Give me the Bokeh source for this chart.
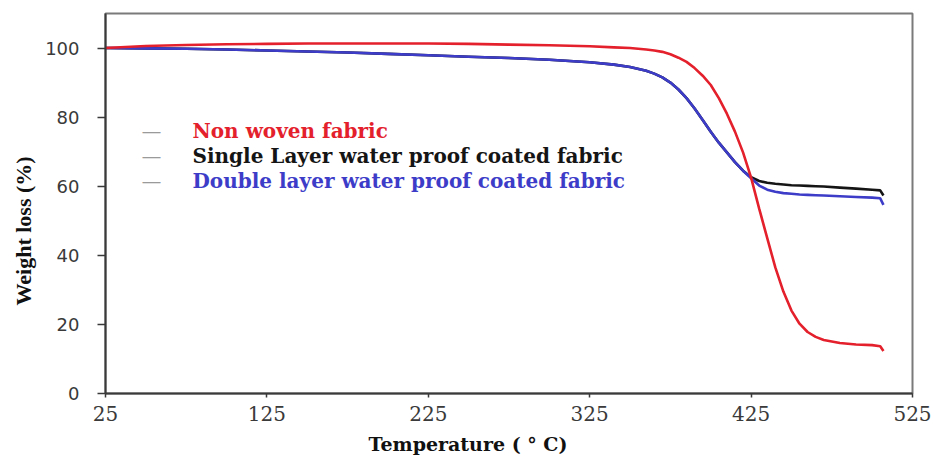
from bokeh.plotting import figure
from bokeh.models import Range1d, FixedTicker, Label, Title
from bokeh.embed import file_html
from bokeh.resources import INLINE

# ---- data ----
temperature = [25, 50, 75, 100, 125, 150, 175, 200, 225, 250, 275, 300, 325, 340, 350,
               360, 365, 370, 375, 380, 385, 390, 395, 400, 405, 410, 415, 420, 425,
               430, 435, 440, 445, 450, 455, 460, 465, 470, 480, 490, 500, 505, 507]
non_woven = [100.0, 100.6, 100.9, 101.1, 101.2, 101.3, 101.3, 101.3, 101.3, 101.2,
             101.0, 100.8, 100.5, 100.2, 100.0,
             99.6, 99.3, 98.9, 98.2, 97.2, 96.0, 94.2, 92.0, 89.3,
             85.5, 81.0, 75.8, 69.8, 62.5,
             53.5, 45.0, 36.5, 29.5, 24.0, 20.2, 17.8, 16.4, 15.5, 14.6, 14.2, 14.0, 13.7, 12.3]
single_layer = [100.0, 99.9, 99.8, 99.6, 99.3, 99.0, 98.7, 98.3, 97.9, 97.5,
                97.1, 96.6, 95.9, 95.2, 94.5,
                93.4, 92.6, 91.5, 90.0, 88.0, 85.5, 82.5, 79.2, 75.8,
                72.6, 69.8, 67.0, 64.5, 62.6,
                61.5, 61.0, 60.7, 60.5, 60.3, 60.2, 60.1, 60.0, 59.9, 59.6, 59.3, 59.0, 58.8, 57.3]
double_layer = [100.0, 99.9, 99.8, 99.6, 99.3, 99.0, 98.7, 98.3, 97.9, 97.5,
                97.1, 96.6, 95.9, 95.2, 94.5,
                93.4, 92.6, 91.5, 90.0, 88.0, 85.5, 82.5, 79.2, 75.8,
                72.6, 69.8, 67.0, 64.5, 62.3,
                60.2, 59.0, 58.4, 58.0, 57.8, 57.6, 57.5, 57.4, 57.3, 57.1, 56.9, 56.7, 56.5, 54.6]
series_names = ["Non woven fabric",
                "Single Layer water proof coated fabric",
                "Double layer water proof coated fabric"]
x_ticks = [25, 125, 225, 325, 425, 525]
y_ticks = [0, 20, 40, 60, 80, 100]
x_title = "Temperature ( \u00b0 C)"
y_title = "Weight loss (%)"

RED = "#e3202b"
BLACK = "#151515"
BLUE = "#3c3cc8"

W, H = 934, 465
BL, BR, BT, BB = 105, 22, 13, 72
p = figure(width=W, height=H, output_backend="svg", toolbar_location=None,
           x_range=Range1d(25, 525), y_range=Range1d(0, 110),
           min_border_left=BL, min_border_right=BR, min_border_top=BT, min_border_bottom=BB)

p.background_fill_color = "white"
p.border_fill_color = "white"
p.outline_line_color = "#7a7a7a"
p.outline_line_width = 2
p.xgrid.visible = False
p.ygrid.visible = False

# axes
p.xaxis.ticker = FixedTicker(ticks=x_ticks)
p.yaxis.ticker = FixedTicker(ticks=y_ticks)
p.xaxis.minor_tick_line_color = None
p.yaxis.minor_tick_line_color = None
for ax in (p.xaxis, p.yaxis):
    ax.axis_line_color = "#3a3a3a"
    ax.axis_line_width = 2
    ax.major_tick_line_color = "#3a3a3a"
    ax.major_tick_line_width = 1.5
    ax.major_tick_in = 0

p.yaxis.major_tick_out = 8
p.yaxis.major_label_standoff = 18
p.yaxis.major_label_text_font = "DejaVu Sans"
p.yaxis.major_label_text_font_size = "18px"
p.yaxis.major_label_text_color = "#3a3a3a"

p.xaxis.major_tick_out = 4
p.xaxis.major_label_standoff = 8
p.xaxis.major_label_text_font = "DejaVu Serif"
p.xaxis.major_label_text_font_size = "20px"
p.xaxis.major_label_text_color = "#3a3a3a"

# axis titles as side titles so they can sit off-centre like the reference
frame_bottom = H - BB
p.add_layout(Title(text=x_title, align="left", offset=368 - BL, standoff=15,
                   text_font="DejaVu Serif", text_font_style="bold",
                   text_font_size="19px", text_color="#111111"), "below")
p.add_layout(Title(text=y_title, align="left", offset=frame_bottom - 305, standoff=14,
                   text_font="Liberation Serif", text_font_style="bold",
                   text_font_size="22px", text_color="#111111"), "left")

# curves
p.line(temperature, single_layer, line_color=BLACK, line_width=2.6)
p.line(temperature, double_layer, line_color=BLUE, line_width=2.6)
p.line(temperature, non_woven, line_color=RED, line_width=2.6)

# legend (manual, coloured texts with grey swatches)
# Label screen units are measured from the frame's bottom-left corner
colors = [RED, BLACK, BLUE]
rows_from_top = [130, 155, 180]
for name, col, yt in zip(series_names, colors, rows_from_top):
    yy = frame_bottom - yt
    p.add_layout(Label(x=142 - BL, y=yy, x_units="screen", y_units="screen",
                       text="\u2014", text_color="#9a9a9a", text_font_size="18px",
                       text_baseline="middle"))
    p.add_layout(Label(x=192 - BL, y=yy, x_units="screen", y_units="screen",
                       text=name, text_color=col, text_font="DejaVu Serif",
                       text_font_style="bold", text_font_size="20px",
                       text_baseline="middle"))

open("out.html", "w").write(file_html(p, INLINE))
